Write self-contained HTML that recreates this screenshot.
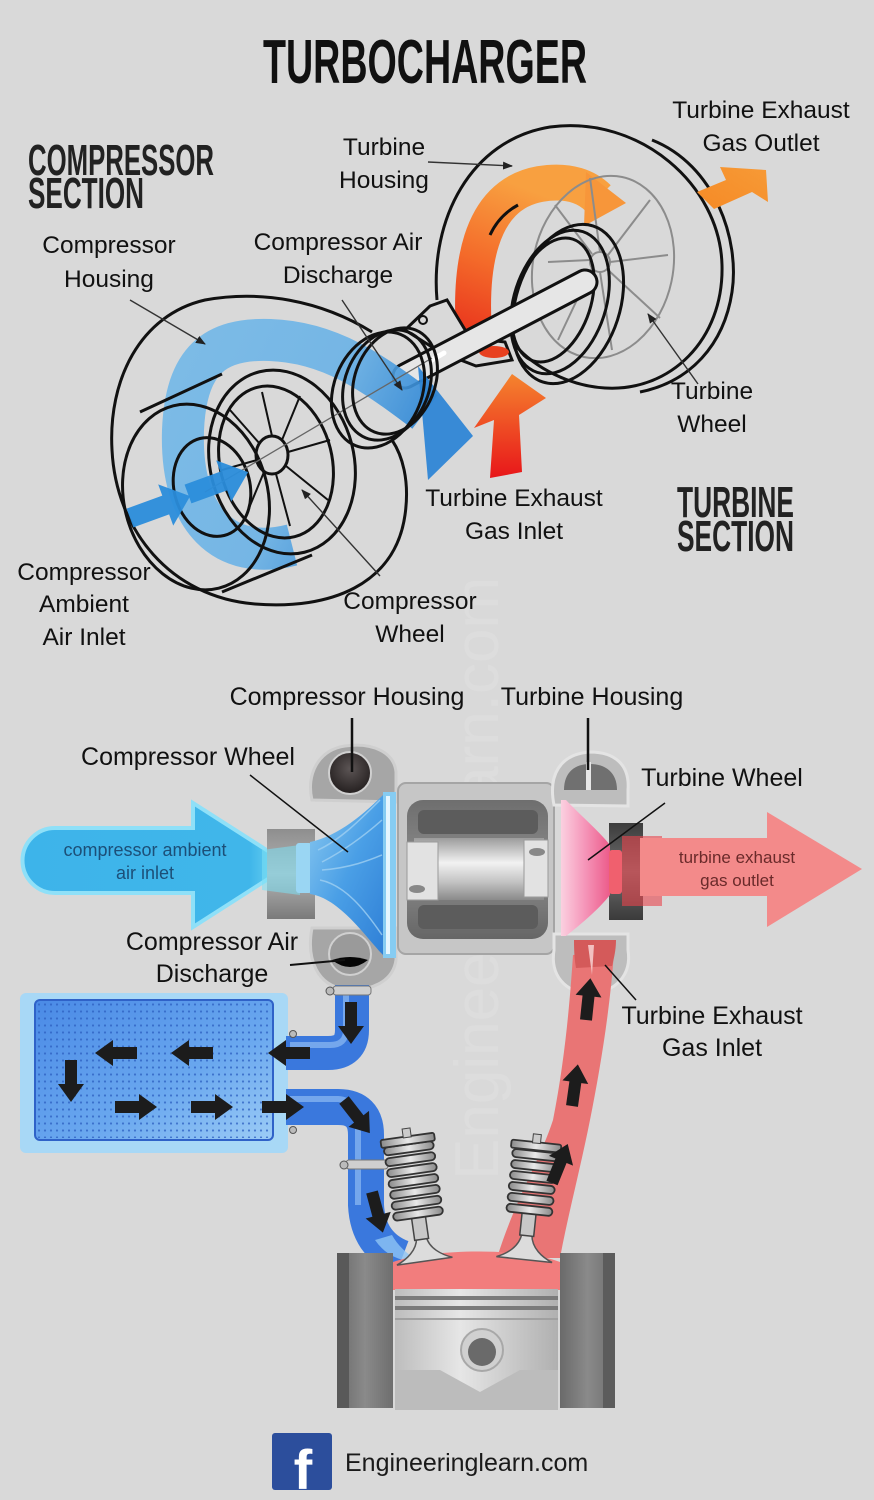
<!DOCTYPE html>
<html><head><meta charset="utf-8"><style>
html,body{margin:0;padding:0;background:#d9d9d9;}
svg{display:block;}
text{font-family:"Liberation Sans",Arial,sans-serif;}
</style></head><body>
<svg width="874" height="1500" viewBox="0 0 874 1500" xmlns="http://www.w3.org/2000/svg">
<defs>
<linearGradient id="gOr" x1="0" y1="1" x2="0.3" y2="0"><stop offset="0" stop-color="#e8301c"/><stop offset="0.5" stop-color="#f46b2a"/><stop offset="1" stop-color="#f8a040"/></linearGradient>
<linearGradient id="gRd" x1="0" y1="1" x2="0" y2="0"><stop offset="0" stop-color="#e8161a"/><stop offset="1" stop-color="#f5842e"/></linearGradient>
<linearGradient id="gOut" x1="0" y1="1" x2="1" y2="0"><stop offset="0" stop-color="#f58a26"/><stop offset="1" stop-color="#f79a36"/></linearGradient>
<linearGradient id="gBl" x1="0" y1="0" x2="1" y2="0.4"><stop offset="0" stop-color="#72b8e8"/><stop offset="0.6" stop-color="#6ab2e6"/><stop offset="1" stop-color="#2d86d6"/></linearGradient>
<linearGradient id="gIn" x1="0" y1="0" x2="1" y2="0"><stop offset="0" stop-color="#3db4ea"/><stop offset="0.85" stop-color="#40b6ea"/><stop offset="1" stop-color="#7fe0f5"/></linearGradient>
<linearGradient id="gTube" x1="0" y1="0" x2="0" y2="1"><stop offset="0" stop-color="#8e8e8e"/><stop offset="0.5" stop-color="#b5b5b5"/><stop offset="1" stop-color="#7a7a7a"/></linearGradient>
<linearGradient id="gWheelB" x1="0" y1="0" x2="1" y2="1"><stop offset="0" stop-color="#8ccaf0"/><stop offset="0.5" stop-color="#4a9fe6"/><stop offset="1" stop-color="#2f7fd6"/></linearGradient>
<linearGradient id="gShaft" x1="0" y1="0" x2="0" y2="1"><stop offset="0" stop-color="#9c9c9c"/><stop offset="0.4" stop-color="#f2f2f2"/><stop offset="0.7" stop-color="#c4c4c4"/><stop offset="1" stop-color="#8a8a8a"/></linearGradient>
<linearGradient id="gDark" x1="0" y1="0" x2="0" y2="1"><stop offset="0" stop-color="#6e6e6e"/><stop offset="0.5" stop-color="#8c8c8c"/><stop offset="1" stop-color="#666"/></linearGradient>
<linearGradient id="gPink" x1="0" y1="0" x2="1" y2="0"><stop offset="0" stop-color="#fbd0e0"/><stop offset="0.5" stop-color="#f594b8"/><stop offset="1" stop-color="#ec5b8a"/></linearGradient>
<linearGradient id="gOutTube" x1="0" y1="0" x2="0" y2="1"><stop offset="0" stop-color="#3c3c3c"/><stop offset="0.5" stop-color="#707070"/><stop offset="1" stop-color="#3a3a3a"/></linearGradient>
<linearGradient id="gIC" x1="0" y1="0" x2="1" y2="1"><stop offset="0" stop-color="#4a8ae6"/><stop offset="0.6" stop-color="#6aa8ef"/><stop offset="1" stop-color="#9cccf6"/></linearGradient>
<linearGradient id="gPiston" x1="0" y1="0" x2="1" y2="0"><stop offset="0" stop-color="#bdbdbd"/><stop offset="0.4" stop-color="#e6e6e6"/><stop offset="1" stop-color="#b0b0b0"/></linearGradient>
<linearGradient id="gWall" x1="0" y1="0" x2="1" y2="0"><stop offset="0" stop-color="#6a6a6a"/><stop offset="0.5" stop-color="#8a8a8a"/><stop offset="1" stop-color="#6e6e6e"/></linearGradient>
<linearGradient id="gSpring" x1="0" y1="0" x2="1" y2="0"><stop offset="0" stop-color="#8a8a8a"/><stop offset="0.5" stop-color="#e8e8e8"/><stop offset="1" stop-color="#8a8a8a"/></linearGradient>
<radialGradient id="gHole" cx="0.5" cy="0.4" r="0.6"><stop offset="0" stop-color="#5c5555"/><stop offset="1" stop-color="#241f1f"/></radialGradient>
<pattern id="dots" width="6" height="7" patternUnits="userSpaceOnUse"><circle cx="3" cy="3.5" r="1.1" fill="#2c5fc0" opacity="0.75"/></pattern>
<marker id="ah" markerWidth="10" markerHeight="10" refX="9" refY="5" orient="auto" markerUnits="userSpaceOnUse"><path d="M0,1 L10,5 L0,9 Z" fill="#222"/></marker>
<path id="ba" d="M0,-6 L24,-6 L24,-13 L42,0 L24,13 L24,6 L0,6Z" fill="#1c1c1c"/>
<path id="ib" d="M0,-10 L38,-10 L38,-22 L64,0 L38,22 L38,10 L0,10Z" fill="#2b8ddb"/>
</defs>

<rect width="874" height="1500" fill="#d9d9d9"/>

<!-- watermark -->
<text transform="translate(498,1180) rotate(-90)" font-size="62" fill="#ffffff" opacity="0.12">Engineeringlearn.com</text>

<!-- TITLES -->
<text x="263" y="83" font-size="62" font-weight="bold" textLength="324" lengthAdjust="spacingAndGlyphs" fill="#111">TURBOCHARGER</text>
<text x="28" y="175" font-size="44" font-weight="bold" textLength="186" lengthAdjust="spacingAndGlyphs" fill="#222">COMPRESSOR</text>
<text x="28" y="208" font-size="44" font-weight="bold" textLength="116" lengthAdjust="spacingAndGlyphs" fill="#222">SECTION</text>
<text x="677" y="517" font-size="44" font-weight="bold" textLength="117" lengthAdjust="spacingAndGlyphs" fill="#222">TURBINE</text>
<text x="677" y="551" font-size="44" font-weight="bold" textLength="117" lengthAdjust="spacingAndGlyphs" fill="#222">SECTION</text>

<!-- ============ TOP DIAGRAM ============ -->
<path d="M475,345 C468,270 478,195 540,184 C570,179 588,188 598,198" fill="none" stroke="url(#gOr)" stroke-width="36"/>
<path d="M586,172 L626,203 L584,226 Z" fill="#f7963a"/>
<g fill="none" stroke="#8c8c8c" stroke-width="2">
<ellipse cx="603" cy="267" rx="70" ry="92" transform="rotate(12 603 267)"/>
<circle cx="600" cy="262" r="10"/>
<path d="M600,252 L590,178 M608,255 L650,200 M610,262 L668,255 M608,270 L660,318 M600,272 L612,350 M592,268 L558,340 M590,260 L548,262 M592,254 L555,205"/>
</g>
<g fill="none" stroke="#111" stroke-width="3">
<path d="M437,300 C430,220 470,140 550,127 C640,115 720,185 722,265 C724,340 670,392 605,388 C570,386 535,368 515,345"/>
<path d="M652,140 C715,165 740,240 732,292 C724,345 690,382 640,392"/>
<path d="M518,205 C505,212 496,222 490,235" stroke-width="3"/>
<ellipse cx="553" cy="300" rx="38" ry="64" transform="rotate(18 553 300)"/>
<ellipse cx="560" cy="302" rx="46" ry="74" transform="rotate(18 560 302)"/>
<ellipse cx="568" cy="304" rx="52" ry="82" transform="rotate(18 568 304)"/>
</g>
<path d="M490,478 L522,472 L519,415 L546,398 L512,374 L474,428 L494,420 Z" fill="url(#gRd)"/>
<path d="M697,192 L726,180 L720,167 L766,170 L768,202 L752,192 L714,209 Z" fill="url(#gOut)"/>
<path d="M405,330 L430,306 L447,300 L470,338 L505,342 L512,360 L476,366 L440,352 Z" fill="#d9d9d9" stroke="#111" stroke-width="3"/>
<circle cx="423" cy="320" r="4" fill="none" stroke="#111" stroke-width="2"/>
<ellipse cx="494" cy="352" rx="15" ry="6" fill="#e8401f"/>
<line x1="405" y1="376" x2="585" y2="282" stroke="#111" stroke-width="27" stroke-linecap="round"/>
<line x1="405" y1="376" x2="585" y2="282" stroke="#e6e6e6" stroke-width="21" stroke-linecap="round"/>
<line x1="432" y1="360" x2="444" y2="353" stroke="#fff" stroke-width="5" stroke-linecap="round"/>

<path d="M292,545 C225,562 180,520 183,430 C186,360 215,338 270,340 C330,342 372,372 425,412" fill="none" stroke="url(#gBl)" stroke-width="42" opacity="0.9"/>
<path d="M418,366 L473,436 L428,480 Z" fill="#2f86d6" opacity="0.95"/>
<g fill="none" stroke="#111" stroke-width="3">
<path d="M372,332 C320,300 260,290 205,300 C140,315 108,380 112,450 C116,530 170,597 255,604 C330,610 395,585 405,515 C410,480 402,455 392,440"/>
<ellipse cx="282" cy="462" rx="72" ry="93" transform="rotate(-14 282 462)"/>
<ellipse cx="276" cy="462" rx="56" ry="77" transform="rotate(-14 276 462)"/>
<line x1="140" y1="412" x2="222" y2="374"/>
<line x1="222" y1="592" x2="312" y2="555"/>
<ellipse cx="196" cy="497" rx="72" ry="94" transform="rotate(-14 196 497)"/>
<ellipse cx="212" cy="487" rx="38" ry="50" transform="rotate(-14 212 487)"/>
<ellipse cx="272" cy="455" rx="16" ry="19"/>
</g>
<g stroke="#111" stroke-width="2">
<path d="M272,436 L262,392 M282,440 L300,396 M288,452 L330,440 M286,466 L328,500 M276,474 L290,526 M264,472 L244,520 M257,460 L222,470 M260,444 L230,410"/>
</g>
<line x1="205" y1="492" x2="432" y2="358" stroke="#666" stroke-width="1.3"/>
<use href="#ib" transform="translate(130,518) rotate(-20)" opacity="0.95"/>
<use href="#ib" transform="translate(188,494) rotate(-20)" opacity="0.95"/>
<g fill="none" stroke="#111" stroke-width="3">
<ellipse cx="378" cy="390" rx="44" ry="60" transform="rotate(22 378 390)"/>
<ellipse cx="387" cy="385" rx="42" ry="57" transform="rotate(22 387 385)"/>
<ellipse cx="395" cy="381" rx="40" ry="55" transform="rotate(22 395 381)"/>
</g>
<g stroke="#333" stroke-width="1.4" fill="none" marker-end="url(#ah)">
<line x1="130" y1="300" x2="205" y2="344"/>
<line x1="342" y1="300" x2="402" y2="390"/>
<line x1="428" y1="162" x2="512" y2="166"/>
<line x1="698" y1="384" x2="648" y2="314"/>
<line x1="380" y1="576" x2="302" y2="490"/>
</g>

<g font-size="24.5" fill="#111" text-anchor="middle">
<text x="109" y="253">Compressor</text><text x="109" y="287">Housing</text>
<text x="384" y="155">Turbine</text><text x="384" y="188">Housing</text>
<text x="338" y="250">Compressor Air</text><text x="338" y="283">Discharge</text>
<text x="761" y="118">Turbine Exhaust</text><text x="761" y="151">Gas Outlet</text>
<text x="712" y="399">Turbine</text><text x="712" y="432">Wheel</text>
<text x="514" y="506">Turbine Exhaust</text><text x="514" y="539">Gas Inlet</text>
<text x="84" y="580">Compressor</text><text x="84" y="612">Ambient</text><text x="84" y="645">Air Inlet</text>
<text x="410" y="609">Compressor</text><text x="410" y="642">Wheel</text>
</g>

<!-- ============ BOTTOM DIAGRAM ============ -->
<path d="M55,828 L193,828 L193,803 L290,865 L193,927 L193,893 L55,893 A32,32 0 0 1 55,828 Z" fill="url(#gIn)" stroke="#8fe0f8" stroke-width="4"/>
<text x="145" y="856" font-size="18" fill="#1c4f78" text-anchor="middle">compressor ambient</text>
<text x="145" y="879" font-size="18" fill="#1c4f78" text-anchor="middle">air inlet</text>
<rect x="267" y="829" width="48" height="90" fill="url(#gTube)"/>
<path d="M262,850 L300,845 L300,895 L262,890 Z" fill="#7ce0f4" opacity="0.55"/>
<path d="M312,800 C306,775 318,750 345,746 C372,742 394,752 396,772 L396,802 Z" fill="#a6a6a6" stroke="#cfcfcf" stroke-width="3"/>
<circle cx="350" cy="773" r="21" fill="url(#gHole)" stroke="#d0d0d0" stroke-width="2"/>
<path d="M312,928 L396,928 L396,960 C393,982 370,992 345,989 C318,986 306,960 312,928 Z" fill="#a6a6a6" stroke="#cfcfcf" stroke-width="3"/>
<circle cx="350" cy="954" r="21" fill="#9a9a9a" stroke="#d0d0d0" stroke-width="2"/>
<path d="M332,960 Q350,974 368,960 Q350,954 332,960 Z" fill="#050505"/>
<rect x="296" y="843" width="16" height="50" rx="3" fill="#9ad6f3"/>
<path d="M310,842 C340,836 368,810 384,794 L384,956 C368,940 340,898 310,894 Z" fill="url(#gWheelB)"/>
<g stroke="#9fd0f2" stroke-width="1.5" fill="none" opacity="0.8">
<path d="M318,850 C340,840 360,820 380,800"/><path d="M322,862 C345,850 365,835 382,820"/><path d="M320,880 C345,885 365,910 382,935"/><path d="M322,870 C350,868 370,860 382,855"/>
</g>
<rect x="383" y="792" width="13" height="166" fill="#86ccf2"/>
<rect x="386" y="796" width="4" height="158" fill="#e5f6ff"/>
<rect x="398" y="783" width="156" height="171" rx="8" fill="#c6c6c6" stroke="#a5a5a5" stroke-width="2"/>
<rect x="407" y="800" width="141" height="139" rx="16" fill="url(#gDark)"/>
<rect x="418" y="810" width="120" height="24" rx="6" fill="#5c5c5c"/>
<rect x="418" y="905" width="120" height="24" rx="6" fill="#5c5c5c"/>
<rect x="414" y="838" width="130" height="62" fill="url(#gShaft)"/>
<rect x="407" y="842" width="31" height="58" fill="#e2e2e2" stroke="#9a9a9a"/>
<rect x="524" y="840" width="24" height="57" fill="#e2e2e2" stroke="#9a9a9a"/>
<ellipse cx="417" cy="889" rx="8" ry="4" fill="#888"/>
<ellipse cx="537" cy="852" rx="8" ry="4" fill="#888"/>
<path d="M554,805 C548,775 560,754 590,752 C615,752 630,765 628,790 L628,806 Z" fill="#bdbdbd" stroke="#e4e4e4" stroke-width="3"/>
<path d="M564,790 C564,772 575,764 590,764 C605,764 617,772 617,790 Z" fill="#707070"/>
<rect x="586" y="762" width="5" height="28" fill="#e6e6e6"/>
<path d="M554,934 L628,934 L628,950 C632,975 615,993 590,993 C565,993 550,975 554,950 Z" fill="#bdbdbd" stroke="#e4e4e4" stroke-width="3"/>
<rect x="609" y="823" width="34" height="97" fill="url(#gOutTube)"/>
<path d="M561,800 L566,800 C580,815 598,830 610,845 L610,895 C598,910 580,925 566,936 L561,936 Z" fill="url(#gPink)"/>
<rect x="609" y="850" width="13" height="44" rx="3" fill="#f0606e"/>
<rect x="622" y="836" width="40" height="70" fill="#e8454c" opacity="0.6"/>
<path d="M640,838 L767,838 L767,812 L862,869 L767,927 L767,896 L640,896 Z" fill="#f38a8a"/>
<text x="737" y="863" font-size="17" fill="#6a2a2a" text-anchor="middle">turbine exhaust</text>
<text x="737" y="886" font-size="17" fill="#6a2a2a" text-anchor="middle">gas outlet</text>

<path d="M497,1258 C515,1200 540,1160 553,1120 C565,1060 570,1000 573,955 L614,952 C610,1010 600,1070 590,1120 C580,1170 568,1215 560,1258 Z" fill="#e97575"/>
<path d="M574,940 C574,955 575,962 576,968 L612,966 C614,958 616,950 616,940 Z" fill="#d45a5a"/>
<path d="M588,945 L594,945 L592,975 Z" fill="#f2c0c0"/>

<rect x="20" y="993" width="268" height="160" rx="6" fill="#a8d8f6"/>
<rect x="35" y="1000" width="238" height="140" rx="5" fill="url(#gIC)" stroke="#2f62c8" stroke-width="2"/>
<rect x="37" y="1002" width="234" height="136" fill="url(#dots)"/>

<path d="M352,985 L352,1030 Q352,1053 328,1053 L286,1053" fill="none" stroke="#3a78dd" stroke-width="34"/>
<path d="M346,990 L346,1030 Q346,1045 330,1045 L290,1045" fill="none" stroke="#9cc6f6" stroke-width="6" opacity="0.6"/>
<path d="M286,1107 L338,1107 Q366,1107 366,1135 L366,1205 Q368,1245 402,1258" fill="none" stroke="#3a78dd" stroke-width="36"/>
<path d="M290,1099 L338,1099 Q358,1100 358,1130 L358,1205" fill="none" stroke="#9cc6f6" stroke-width="6" opacity="0.6"/>
<path d="M375,1240 Q390,1262 420,1262 Q400,1250 392,1235 Z" fill="#8ec4f5" opacity="0.8"/>
<rect x="333" y="986" width="38" height="9" rx="3" fill="#cfcfcf" stroke="#777"/>
<circle cx="330" cy="991" r="4" fill="#bbb" stroke="#555"/>
<rect x="346" y="1160" width="42" height="9" rx="3" fill="#cfcfcf" stroke="#777"/>
<circle cx="344" cy="1165" r="4" fill="#bbb" stroke="#555"/>
<circle cx="293" cy="1034" r="3.5" fill="#bbb" stroke="#555"/>
<circle cx="293" cy="1130" r="3.5" fill="#bbb" stroke="#555"/>

<use href="#ba" transform="translate(137,1053) rotate(180)"/>
<use href="#ba" transform="translate(213,1053) rotate(180)"/>
<use href="#ba" transform="translate(310,1053) rotate(180)"/>
<use href="#ba" transform="translate(71,1060) rotate(90)"/>
<use href="#ba" transform="translate(115,1107)"/>
<use href="#ba" transform="translate(191,1107)"/>
<use href="#ba" transform="translate(262,1107)"/>
<use href="#ba" transform="translate(351,1002) rotate(90)"/>
<use href="#ba" transform="translate(344,1100) rotate(52)"/>
<use href="#ba" transform="translate(372,1192) rotate(75)"/>
<use href="#ba" transform="translate(586,1020) rotate(-84)"/>
<use href="#ba" transform="translate(572,1106) rotate(-82)"/>

<rect x="337" y="1253" width="56" height="155" fill="url(#gWall)"/>
<rect x="337" y="1253" width="12" height="155" fill="#595959"/>
<rect x="560" y="1253" width="55" height="155" fill="url(#gWall)"/>
<rect x="603" y="1253" width="12" height="155" fill="#5c5c5c"/>
<path d="M393,1290 L393,1262 C430,1249 520,1247 560,1262 L560,1290 Z" fill="#f27d7d"/>
<rect x="395" y="1289" width="163" height="121" fill="url(#gPiston)"/>
<rect x="395" y="1296" width="163" height="4" fill="#7a7a7a"/>
<rect x="395" y="1306" width="163" height="4" fill="#7a7a7a"/>
<rect x="395" y="1318" width="163" height="2" fill="#a0a0a0"/>
<path d="M395,1370 L440,1370 L480,1392 L520,1370 L558,1370 L558,1410 L395,1410 Z" fill="#bcbcbc"/>
<circle cx="482" cy="1350" r="21" fill="#d0d0d0" stroke="#a8a8a8" stroke-width="2"/>
<circle cx="482" cy="1352" r="14" fill="#6a6a6a"/>

<g transform="translate(413,1178) rotate(-8)">
<path d="M-5,60 C-6,72 -18,80 -28,84 L28,84 C18,80 6,72 5,60 Z" fill="#dcdcdc" stroke="#555" stroke-width="1.5"/>
<rect x="-7" y="38" width="14" height="24" fill="#c8c8c8" stroke="#444" stroke-width="1.5"/>
<g fill="url(#gSpring)" stroke="#333" stroke-width="1.8">
<rect x="-25" y="32" width="50" height="8" rx="4"/><rect x="-25" y="21" width="50" height="8" rx="4"/><rect x="-25" y="10" width="50" height="8" rx="4"/><rect x="-25" y="-1" width="50" height="8" rx="4"/><rect x="-25" y="-12" width="50" height="8" rx="4"/><rect x="-25" y="-23" width="50" height="8" rx="4"/><rect x="-25" y="-34" width="50" height="8" rx="4"/>
<rect x="-27" y="-42" width="54" height="8" rx="2"/>
</g>
<rect x="-4" y="-50" width="8" height="9" fill="#ccc" stroke="#444"/>
</g>
<g transform="translate(533,1176) rotate(6)">
<path d="M-5,58 C-6,72 -18,80 -28,84 L28,84 C18,80 6,72 5,58 Z" fill="#dcdcdc" stroke="#555" stroke-width="1.5"/>
<rect x="-7" y="36" width="14" height="24" fill="#c8c8c8" stroke="#444" stroke-width="1.5"/>
<g fill="url(#gSpring)" stroke="#333" stroke-width="1.8">
<rect x="-23" y="30" width="46" height="8" rx="4"/><rect x="-23" y="19" width="46" height="8" rx="4"/><rect x="-23" y="8" width="46" height="8" rx="4"/><rect x="-23" y="-3" width="46" height="8" rx="4"/><rect x="-23" y="-14" width="46" height="8" rx="4"/><rect x="-23" y="-25" width="46" height="8" rx="4"/>
<rect x="-25" y="-34" width="50" height="8" rx="2"/>
</g>
<rect x="-4" y="-42" width="8" height="9" fill="#ccc" stroke="#444"/>
</g>
<use href="#ba" transform="translate(552,1183) rotate(-68)"/>

<g stroke="#111" fill="none">
<line x1="352" y1="718" x2="352" y2="772" stroke-width="2.5"/>
<line x1="588" y1="718" x2="588" y2="770" stroke-width="2.5"/>
<line x1="250" y1="775" x2="348" y2="852" stroke-width="1.5"/>
<line x1="665" y1="803" x2="588" y2="860" stroke-width="1.5"/>
<line x1="290" y1="965" x2="345" y2="960" stroke-width="2"/>
<line x1="636" y1="1000" x2="605" y2="965" stroke-width="1.5"/>
</g>

<g font-size="25" fill="#111" text-anchor="middle">
<text x="347" y="705">Compressor Housing</text>
<text x="592" y="705">Turbine Housing</text>
<text x="188" y="765">Compressor Wheel</text>
<text x="722" y="786">Turbine Wheel</text>
<text x="212" y="950">Compressor Air</text>
<text x="212" y="982">Discharge</text>
<text x="712" y="1024">Turbine Exhaust</text>
<text x="712" y="1056">Gas Inlet</text>
</g>

<rect x="272" y="1433" width="60" height="57" rx="3" fill="#2c4e9c"/>
<text x="303" y="1489" font-size="56" font-weight="bold" fill="#fff" text-anchor="middle">f</text>
<text x="345" y="1471" font-size="25" fill="#1a1a1a">Engineeringlearn.com</text>
</svg>
</body></html>
